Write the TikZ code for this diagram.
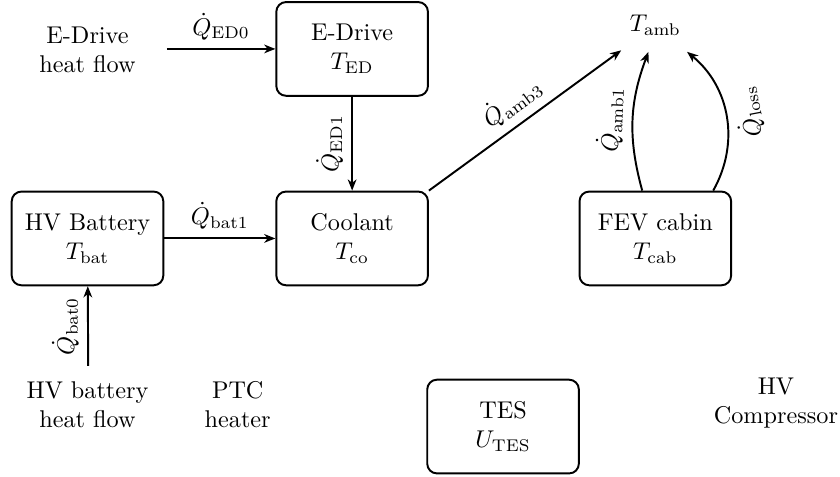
\documentclass[tikz,border=0pt]{standalone}
\usepackage{amsmath}
\usetikzlibrary{arrows.meta,positioning}

\begin{document}
\begin{tikzpicture}[
  box/.style={rectangle, draw, thick, rounded corners=4pt,
    minimum width=2.2cm, minimum height=1.36cm, align=center},
  txt/.style={align=center},
  arr/.style={-{Stealth[length=4.6pt, width=3.6pt, inset=1.4pt]}, thick}
]
\useasboundingbox (0,0) rectangle (12.19,6.92);
\node[box] (ED) at (5.11,6.21) {E-Drive\\$T_{\mathrm{ED}}$};
\node[box] (CO) at (5.11,3.46) {Coolant\\$T_{\mathrm{co}}$};
\node[box] (BAT) at (1.27,3.46) {HV Battery\\$T_{\mathrm{bat}}$};
\node[box] (CAB) at (9.51,3.46) {FEV cabin\\$T_{\mathrm{cab}}$};
\node[box] (TES) at (7.30,0.73) {TES\\$U_{\mathrm{TES}}$};
\node[minimum height=0.75cm] (AMB) at (9.51,6.55) {$T_{\mathrm{amb}}$};
\node[txt] (EDin) at (1.27,6.20) {E-Drive\\heat flow};
\node[txt] (BATin) at (1.27,1.045) {HV battery\\heat flow};
\node[txt] (PTC) at (3.45,1.045) {PTC\\heater};
\node[txt] (HVC) at (11.26,1.07) {HV\\Compressor};
\coordinate (ed0) at (2.42,6.21);
\coordinate (bat0) at (1.28,1.61);
\draw[arr] (ed0) -- node[above] {$\dot{Q}_{\mathrm{ED0}}$} (ED);
\draw[arr] (ED) -- node[above, rotate=90] {$\dot{Q}_{\mathrm{ED1}}$} (CO);
\draw[arr] (BAT) -- node[above] {$\dot{Q}_{\mathrm{bat1}}$} (CO);
\draw[arr] (bat0) -- node[above, rotate=90] {$\dot{Q}_{\mathrm{bat0}}$} (BAT);
\draw[arr] (CO.north east) -- node[above, sloped] {$\dot{Q}_{\mathrm{amb3}}$} (AMB);
\draw[arr] ([xshift=-0.19cm]CAB.north) to[bend left=18]
  node[above, sloped] {$\dot{Q}_{\mathrm{amb1}}$} ([xshift=-0.1cm]AMB.south);
\draw[arr] ([xshift=0.84cm]CAB.north) to[bend right=40]
  node[below, sloped, allow upside down] {$\dot{Q}_{\mathrm{loss}}$} ([xshift=0.46cm]AMB.south);
\end{tikzpicture}
\end{document}
